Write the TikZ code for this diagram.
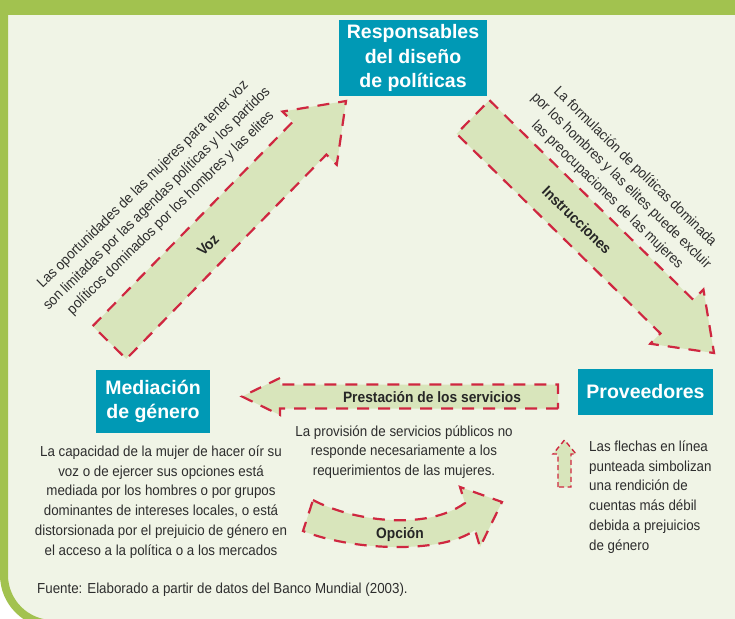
\documentclass[tikz,border=0pt]{standalone}
\usepackage{fontspec}
\setmainfont{Liberation Sans}
\newfontfamily\condfont[FakeStretch=0.92]{Liberation Sans}
\usepackage{tikz}
\usetikzlibrary{positioning, calc}
\definecolor{Leaf}{RGB}{162,194,79}
\definecolor{Paper}{RGB}{240,244,230}
\definecolor{ArrowFill}{RGB}{216,229,187}
\definecolor{DashRed}{RGB}{207,39,64}
\definecolor{BoxTeal}{RGB}{0,153,181}
\definecolor{Ink}{RGB}{45,45,45}
\tikzstyle{box}=[%
      rectangle, fill=BoxTeal, text=white, align=center, inner sep=0pt,
      font=\bfseries\fontsize{19.5}{24.5}\selectfont
]
\tikzstyle{ba}=[%
      fill=ArrowFill, draw=DashRed, line width=2.2pt, dash pattern=on 12pt off 9pt
]
\tikzstyle{txt}=[%
      text=Ink, align=center, inner sep=0pt,
      font=\condfont\fontsize{14.5}{19.8}\selectfont
]
\tikzstyle{lbl}=[%
      text=black!85, inner sep=0pt,
      font=\condfont\bfseries\fontsize{15}{18}\selectfont
]
% block arrow: [style]{tail}{tip}{half shaft}{half head}{head length}
\newcommand{\blockarrow}[6][ba]{%
  \path ($(#3)!#6!(#2)$) coordinate (neck);
  \filldraw[#1] ($(#2)!#4!90:(#3)$) -- ($(neck)!#4!-90:(#2)$) -- ($(neck)!#5!-90:(#2)$)
    -- (#3) -- ($(neck)!#5!90:(#2)$) -- ($(neck)!#4!90:(#2)$) -- ($(#2)!#4!-90:(#3)$) -- cycle;
}

\begin{document}
\begin{tikzpicture}[x=1pt, y=-1pt]
    \useasboundingbox (0,0) rectangle (735,618);
    % frame
    \fill[white] (0,0) rectangle (735,618);
    \fill[Paper, rounded corners=45pt] (8,-60) rectangle (800,620);
    \draw[Leaf, line width=8pt, rounded corners=49pt] (4,-60) rectangle (800,624);
    \fill[Leaf] (0,0) rectangle (735,15);

    \node[box, minimum width=148pt, minimum height=76pt] (resp) at (413,58)    {Responsables\\del diseño\\de políticas};
    \node[box, minimum width=114pt, minimum height=63pt] (med)  at (153,401.5) {Mediación\\de género};
    \node[box, minimum width=135pt, minimum height=46pt] (prov) at (645.5,392) {Proveedores};

    \coordinate (voz-a) at (109.5,342.5);
    \coordinate (voz-b) at (346,101);
    \coordinate (ins-a) at (473,117);
    \coordinate (ins-b) at (714,353);
    \coordinate (pre-a) at (558,396.5);
    \coordinate (pre-b) at (242,396.5);
    \coordinate (leg-a) at (564.5,487);
    \coordinate (leg-b) at (564.5,440);

    \blockarrow{voz-a}{voz-b}{23.5pt}{38pt}{52pt}
    \blockarrow{ins-a}{ins-b}{23.5pt}{38pt}{52pt}
    \blockarrow{pre-a}{pre-b}{12pt}{18.5pt}{38pt}
    \blockarrow[ba, line width=1.4pt, dash pattern=on 5pt off 3.5pt]{leg-a}{leg-b}{6.5pt}{11.5pt}{14pt}
    % curved arrow
    \filldraw[ba] (313,500) .. controls (350,520) and (425,532) .. (465,503) -- (460,487) -- (502,502)
        -- (480,547) -- (475,530) .. controls (440,555) and (350,550) .. (303,531) -- cycle;

    \node[lbl, rotate=45.7]  (voz) at (208,245) {Voz};
    \node[lbl, rotate=-44.4] (ins) at (577,220) {Instrucciones};
    \node[lbl]               (pre) at (432,397) {Prestación de los servicios};
    \node[lbl]               (opc) at (400,535) {Opción};

    \node[txt, rotate=44.5]  (voz-txt) at (157,199) {Las oportunidades de las mujeres para tener voz\\son limitadas por las agendas políticas y los partidos\\políticos dominados por los hombres y las elites};
    \node[txt, rotate=-44.3] (ins-txt) at (621,181) {La formulación de políticas dominada\\por los hombres y las elites puede excluir\\las preocupaciones de las mujeres};
    \node[txt] (med-txt) at (161,502) {La capacidad de la mujer de hacer oír su\\voz o de ejercer sus opciones está\\mediada por los hombres o por grupos\\dominantes de intereses locales, o está\\distorsionada por el prejuicio de género en\\el acceso a la política o a los mercados};
    \node[txt] (pre-txt) at (404,452) {La provisión de servicios públicos no\\responde necesariamente a los\\requerimientos de las mujeres.};
    \node[txt, align=left, anchor=west] (leg-txt) at (589,497) {Las flechas en línea\\punteada simbolizan\\una rendición de\\cuentas más débil\\debida a prejuicios\\de género};
    \node[txt, anchor=west] (src) at (37,590) {Fuente: Elaborado a partir de datos del Banco Mundial (2003).};
\end{tikzpicture}
\end{document}
